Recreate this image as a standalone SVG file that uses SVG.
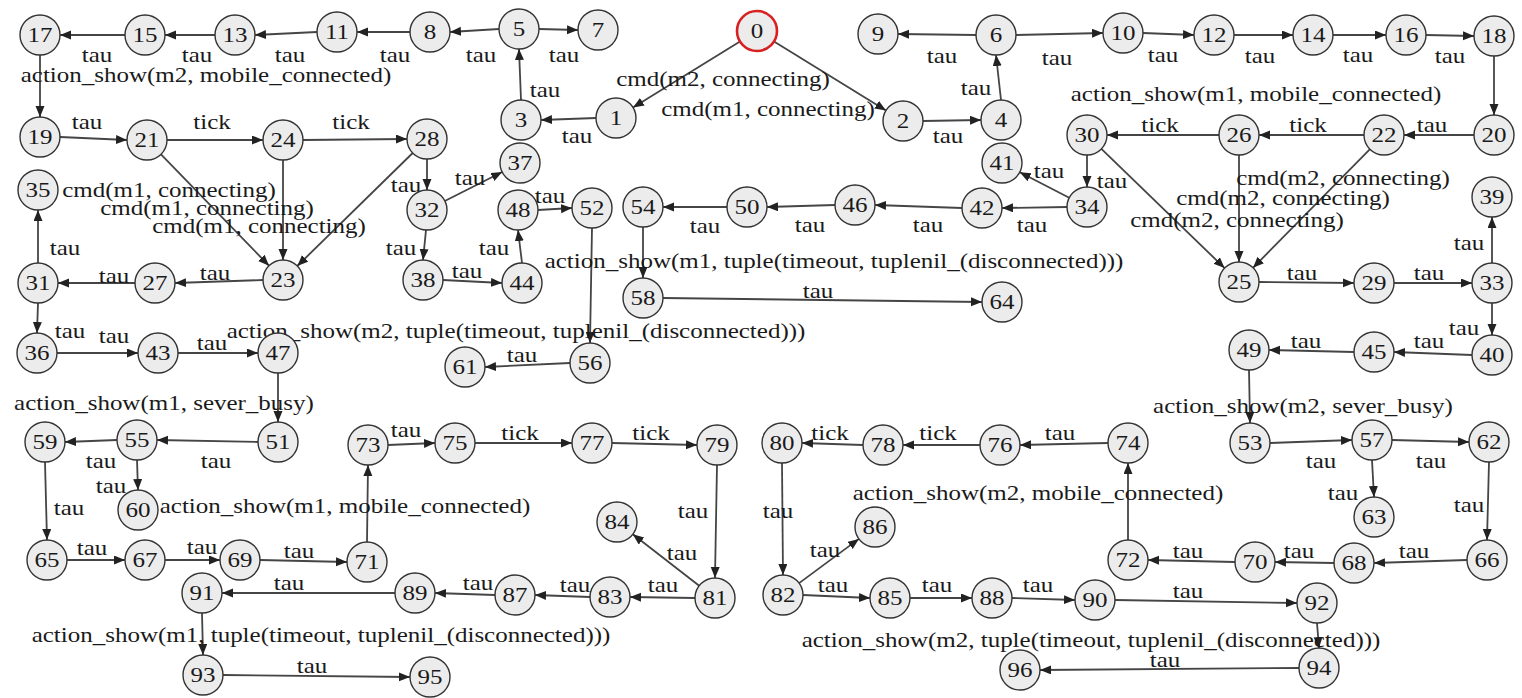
<svg xmlns="http://www.w3.org/2000/svg" width="1522" height="698" viewBox="0 0 1522 698">
<style>
.edge { stroke:#454545; stroke-width:1.8; fill:none; marker-end:url(#arrow); }
.node circle { fill:#ececec; stroke:#333; stroke-width:1.4; }
.node.init circle { stroke:#d82020; stroke-width:2.6; }
text { font-family:"Liberation Serif", "Times New Roman", serif; font-size:21px; fill:#1a1a1a; text-anchor:middle; }
</style>
<defs>
<marker id="arrow" markerWidth="12" markerHeight="10" refX="11" refY="4.5" orient="auto" markerUnits="userSpaceOnUse">
<path d="M0,0 L11,4.5 L0,9 z" fill="#222"/>
</marker>
</defs>
<rect width="1522" height="698" fill="#fff"/>

<!-- transitions -->
<g id="connectors">
<line class="edge" x1="740" y1="41.5" x2="633" y2="107.5"/>
<line class="edge" x1="774" y1="41.5" x2="886" y2="110.5"/>
<line class="edge" x1="596" y1="118" x2="541" y2="120"/>
<line class="edge" x1="923" y1="121" x2="981" y2="120"/>
<line class="edge" x1="521" y1="100" x2="519" y2="49"/>
<line class="edge" x1="1001" y1="100" x2="996" y2="55"/>
<line class="edge" x1="539" y1="29" x2="578" y2="30"/>
<line class="edge" x1="499" y1="29" x2="450" y2="32"/>
<line class="edge" x1="976" y1="35" x2="898" y2="34"/>
<line class="edge" x1="1016" y1="35" x2="1103" y2="33"/>
<line class="edge" x1="410" y1="32" x2="357" y2="32"/>
<line class="edge" x1="1143" y1="33" x2="1194" y2="35"/>
<line class="edge" x1="317" y1="32" x2="255" y2="35"/>
<line class="edge" x1="1234" y1="35" x2="1293" y2="35"/>
<line class="edge" x1="215" y1="35" x2="165" y2="35"/>
<line class="edge" x1="1333" y1="35" x2="1386" y2="35"/>
<line class="edge" x1="125" y1="35" x2="60" y2="35"/>
<line class="edge" x1="1426" y1="35" x2="1474" y2="36"/>
<line class="edge" x1="40" y1="55" x2="40" y2="117"/>
<line class="edge" x1="1494" y1="56" x2="1494" y2="115"/>
<line class="edge" x1="60" y1="137" x2="127" y2="140"/>
<line class="edge" x1="1474" y1="135" x2="1404" y2="135"/>
<line class="edge" x1="161" y1="154.3" x2="269" y2="265.7"/>
<line class="edge" x1="283" y1="160" x2="283" y2="260"/>
<line class="edge" x1="412.7" y1="153" x2="297.3" y2="266"/>
<line class="edge" x1="167" y1="140" x2="263" y2="140"/>
<line class="edge" x1="1101.4" y1="148.9" x2="1224.6" y2="268.1"/>
<line class="edge" x1="1239" y1="155" x2="1239" y2="262"/>
<line class="edge" x1="1370" y1="149.2" x2="1253" y2="267.8"/>
<line class="edge" x1="1364" y1="135" x2="1259" y2="135"/>
<line class="edge" x1="263" y1="280" x2="175" y2="283"/>
<line class="edge" x1="303" y1="140" x2="407" y2="139"/>
<line class="edge" x1="1259" y1="282" x2="1354" y2="283"/>
<line class="edge" x1="1219" y1="135" x2="1107" y2="135"/>
<line class="edge" x1="135" y1="283" x2="58" y2="283"/>
<line class="edge" x1="427" y1="159" x2="427" y2="190"/>
<line class="edge" x1="1394" y1="283" x2="1472" y2="283"/>
<line class="edge" x1="1087" y1="155" x2="1087" y2="187"/>
<line class="edge" x1="38" y1="263" x2="38" y2="210"/>
<line class="edge" x1="38" y1="303" x2="37" y2="333"/>
<line class="edge" x1="444.8" y1="201" x2="502.2" y2="172"/>
<line class="edge" x1="426" y1="230" x2="423" y2="260"/>
<line class="edge" x1="1492" y1="263" x2="1492" y2="217"/>
<line class="edge" x1="1492" y1="303" x2="1492" y2="335"/>
<line class="edge" x1="1069.2" y1="197.8" x2="1019.8" y2="172.2"/>
<line class="edge" x1="1067" y1="207" x2="1002" y2="208"/>
<line class="edge" x1="57" y1="353" x2="138" y2="353"/>
<line class="edge" x1="443" y1="280" x2="502" y2="283"/>
<line class="edge" x1="1472" y1="355" x2="1394" y2="352"/>
<line class="edge" x1="962" y1="208" x2="875" y2="205"/>
<line class="edge" x1="178" y1="353" x2="258" y2="353"/>
<line class="edge" x1="522" y1="263" x2="518" y2="230"/>
<line class="edge" x1="1354" y1="352" x2="1269" y2="350"/>
<line class="edge" x1="835" y1="205" x2="767" y2="207"/>
<line class="edge" x1="278" y1="373" x2="278" y2="422"/>
<line class="edge" x1="538" y1="210" x2="572" y2="208"/>
<line class="edge" x1="1249" y1="370" x2="1250" y2="423"/>
<line class="edge" x1="727" y1="207" x2="663" y2="207"/>
<line class="edge" x1="258" y1="442" x2="157" y2="440"/>
<line class="edge" x1="592" y1="228" x2="590" y2="343"/>
<line class="edge" x1="1270" y1="443" x2="1352" y2="440"/>
<line class="edge" x1="643" y1="227" x2="643" y2="278"/>
<line class="edge" x1="117" y1="440" x2="65" y2="442"/>
<line class="edge" x1="137" y1="460" x2="138" y2="490"/>
<line class="edge" x1="570" y1="363" x2="485" y2="367"/>
<line class="edge" x1="1392" y1="440" x2="1469" y2="442"/>
<line class="edge" x1="1372" y1="460" x2="1374" y2="497"/>
<line class="edge" x1="663" y1="298" x2="982" y2="302"/>
<line class="edge" x1="45" y1="462" x2="47" y2="540"/>
<line class="edge" x1="1489" y1="462" x2="1487" y2="540"/>
<line class="edge" x1="67" y1="560" x2="125" y2="560"/>
<line class="edge" x1="1467" y1="560" x2="1374" y2="563"/>
<line class="edge" x1="165" y1="560" x2="220" y2="560"/>
<line class="edge" x1="1334" y1="563" x2="1275" y2="562"/>
<line class="edge" x1="260" y1="560" x2="347" y2="562"/>
<line class="edge" x1="1235" y1="562" x2="1148" y2="560"/>
<line class="edge" x1="367" y1="542" x2="368" y2="465"/>
<line class="edge" x1="1128" y1="540" x2="1128" y2="463"/>
<line class="edge" x1="388" y1="445" x2="435" y2="443"/>
<line class="edge" x1="1108" y1="443" x2="1020" y2="445"/>
<line class="edge" x1="475" y1="443" x2="572" y2="443"/>
<line class="edge" x1="980" y1="445" x2="903" y2="445"/>
<line class="edge" x1="612" y1="443" x2="697" y2="445"/>
<line class="edge" x1="863" y1="445" x2="802" y2="443"/>
<line class="edge" x1="717" y1="465" x2="715" y2="578"/>
<line class="edge" x1="782" y1="463" x2="783" y2="575"/>
<line class="edge" x1="695" y1="598" x2="630" y2="597"/>
<line class="edge" x1="699.2" y1="585.7" x2="632.8" y2="534.3"/>
<line class="edge" x1="803" y1="595" x2="870" y2="598"/>
<line class="edge" x1="799.1" y1="583.1" x2="858.9" y2="538.9"/>
<line class="edge" x1="590" y1="597" x2="535" y2="595"/>
<line class="edge" x1="910" y1="598" x2="972" y2="598"/>
<line class="edge" x1="495" y1="595" x2="435" y2="593"/>
<line class="edge" x1="1012" y1="598" x2="1075" y2="600"/>
<line class="edge" x1="395" y1="593" x2="222" y2="593"/>
<line class="edge" x1="1115" y1="600" x2="1297" y2="603"/>
<line class="edge" x1="202" y1="613" x2="203" y2="655"/>
<line class="edge" x1="1317" y1="623" x2="1319" y2="648"/>
<line class="edge" x1="223" y1="675" x2="410" y2="677"/>
<line class="edge" x1="1299" y1="668" x2="1040" y2="670"/>
</g>

<!-- transition labels -->
<g id="edge-labels">
<text transform="translate(97 62) scale(1.19 1)">tau</text>
<text transform="translate(197 62) scale(1.19 1)">tau</text>
<text transform="translate(290 62) scale(1.19 1)">tau</text>
<text transform="translate(395 62) scale(1.19 1)">tau</text>
<text transform="translate(481 62) scale(1.19 1)">tau</text>
<text transform="translate(564 62) scale(1.19 1)">tau</text>
<text transform="translate(723 86) scale(1.19 1)">cmd(m2, connecting)</text>
<text transform="translate(768 116) scale(1.19 1)">cmd(m1, connecting)</text>
<text transform="translate(577 143) scale(1.19 1)">tau</text>
<text transform="translate(545 97) scale(1.19 1)">tau</text>
<text transform="translate(948 143) scale(1.19 1)">tau</text>
<text transform="translate(976 95) scale(1.19 1)">tau</text>
<text transform="translate(942 63) scale(1.19 1)">tau</text>
<text transform="translate(1057 65) scale(1.19 1)">tau</text>
<text transform="translate(1163 62) scale(1.19 1)">tau</text>
<text transform="translate(1260 63) scale(1.19 1)">tau</text>
<text transform="translate(1358 62) scale(1.19 1)">tau</text>
<text transform="translate(1450 63) scale(1.19 1)">tau</text>
<text transform="translate(1256 101) scale(1.19 1)">action_show(m1, mobile_connected)</text>
<text transform="translate(1432 132) scale(1.19 1)">tau</text>
<text transform="translate(1308 132) scale(1.19 1)">tick</text>
<text transform="translate(1160 132) scale(1.19 1)">tick</text>
<text transform="translate(1343 185) scale(1.19 1)">cmd(m2, connecting)</text>
<text transform="translate(1283 205) scale(1.19 1)">cmd(m2, connecting)</text>
<text transform="translate(1237 227) scale(1.19 1)">cmd(m2, connecting)</text>
<text transform="translate(1112 188) scale(1.19 1)">tau</text>
<text transform="translate(1049 178) scale(1.19 1)">tau</text>
<text transform="translate(1032 232) scale(1.19 1)">tau</text>
<text transform="translate(928 232) scale(1.19 1)">tau</text>
<text transform="translate(810 232) scale(1.19 1)">tau</text>
<text transform="translate(705 233) scale(1.19 1)">tau</text>
<text transform="translate(206 82) scale(1.19 1)">action_show(m2, mobile_connected)</text>
<text transform="translate(87 129) scale(1.19 1)">tau</text>
<text transform="translate(212 129) scale(1.19 1)">tick</text>
<text transform="translate(351 129) scale(1.19 1)">tick</text>
<text transform="translate(169 197) scale(1.19 1)">cmd(m1, connecting)</text>
<text transform="translate(207 215) scale(1.19 1)">cmd(m1, connecting)</text>
<text transform="translate(259 233) scale(1.19 1)">cmd(m1, connecting)</text>
<text transform="translate(406 192) scale(1.19 1)">tau</text>
<text transform="translate(470 185) scale(1.19 1)">tau</text>
<text transform="translate(550 203) scale(1.19 1)">tau</text>
<text transform="translate(65 255) scale(1.19 1)">tau</text>
<text transform="translate(114 283) scale(1.19 1)">tau</text>
<text transform="translate(215 280) scale(1.19 1)">tau</text>
<text transform="translate(70 338) scale(1.19 1)">tau</text>
<text transform="translate(114 343) scale(1.19 1)">tau</text>
<text transform="translate(212 350) scale(1.19 1)">tau</text>
<text transform="translate(401 255) scale(1.19 1)">tau</text>
<text transform="translate(494 255) scale(1.19 1)">tau</text>
<text transform="translate(467 278) scale(1.19 1)">tau</text>
<text transform="translate(834 268) scale(1.19 1)">action_show(m1, tuple(timeout, tuplenil_(disconnected)))</text>
<text transform="translate(516 338) scale(1.19 1)">action_show(m2, tuple(timeout, tuplenil_(disconnected)))</text>
<text transform="translate(522 362) scale(1.19 1)">tau</text>
<text transform="translate(818 298) scale(1.19 1)">tau</text>
<text transform="translate(164 410) scale(1.19 1)">action_show(m1, sever_busy)</text>
<text transform="translate(216 468) scale(1.19 1)">tau</text>
<text transform="translate(101 468) scale(1.19 1)">tau</text>
<text transform="translate(111 493) scale(1.19 1)">tau</text>
<text transform="translate(69 515) scale(1.19 1)">tau</text>
<text transform="translate(345 513) scale(1.19 1)">action_show(m1, mobile_connected)</text>
<text transform="translate(92 555) scale(1.19 1)">tau</text>
<text transform="translate(202 554) scale(1.19 1)">tau</text>
<text transform="translate(299 558) scale(1.19 1)">tau</text>
<text transform="translate(289 590) scale(1.19 1)">tau</text>
<text transform="translate(321 642) scale(1.19 1)">action_show(m1, tuple(timeout, tuplenil_(disconnected)))</text>
<text transform="translate(312 673) scale(1.19 1)">tau</text>
<text transform="translate(406 437) scale(1.19 1)">tau</text>
<text transform="translate(520 440) scale(1.19 1)">tick</text>
<text transform="translate(651 440) scale(1.19 1)">tick</text>
<text transform="translate(693 518) scale(1.19 1)">tau</text>
<text transform="translate(682 560) scale(1.19 1)">tau</text>
<text transform="translate(663 592) scale(1.19 1)">tau</text>
<text transform="translate(575 592) scale(1.19 1)">tau</text>
<text transform="translate(478 590) scale(1.19 1)">tau</text>
<text transform="translate(1469 250) scale(1.19 1)">tau</text>
<text transform="translate(1302 280) scale(1.19 1)">tau</text>
<text transform="translate(1429 280) scale(1.19 1)">tau</text>
<text transform="translate(1464 335) scale(1.19 1)">tau</text>
<text transform="translate(1429 348) scale(1.19 1)">tau</text>
<text transform="translate(1306 348) scale(1.19 1)">tau</text>
<text transform="translate(1303 413) scale(1.19 1)">action_show(m2, sever_busy)</text>
<text transform="translate(1321 468) scale(1.19 1)">tau</text>
<text transform="translate(1431 468) scale(1.19 1)">tau</text>
<text transform="translate(1343 500) scale(1.19 1)">tau</text>
<text transform="translate(1469 512) scale(1.19 1)">tau</text>
<text transform="translate(1414 558) scale(1.19 1)">tau</text>
<text transform="translate(1299 558) scale(1.19 1)">tau</text>
<text transform="translate(1188 558) scale(1.19 1)">tau</text>
<text transform="translate(1188 598) scale(1.19 1)">tau</text>
<text transform="translate(1091 647) scale(1.19 1)">action_show(m2, tuple(timeout, tuplenil_(disconnected)))</text>
<text transform="translate(1165 667) scale(1.19 1)">tau</text>
<text transform="translate(1038 500) scale(1.19 1)">action_show(m2, mobile_connected)</text>
<text transform="translate(1060 440) scale(1.19 1)">tau</text>
<text transform="translate(938 440) scale(1.19 1)">tick</text>
<text transform="translate(830 440) scale(1.19 1)">tick</text>
<text transform="translate(778 518) scale(1.19 1)">tau</text>
<text transform="translate(825 557) scale(1.19 1)">tau</text>
<text transform="translate(833 592) scale(1.19 1)">tau</text>
<text transform="translate(937 592) scale(1.19 1)">tau</text>
<text transform="translate(1038 592) scale(1.19 1)">tau</text>
</g>

<!-- states -->
<g id="n0" class="node init"><circle cx="757" cy="31" r="20"/><text transform="translate(757 38) scale(1.19 1)">0</text></g>
<g id="n1" class="node"><circle cx="616" cy="118" r="20"/><text transform="translate(616 125) scale(1.19 1)">1</text></g>
<g id="n2" class="node"><circle cx="903" cy="121" r="20"/><text transform="translate(903 128) scale(1.19 1)">2</text></g>
<g id="n3" class="node"><circle cx="521" cy="120" r="20"/><text transform="translate(521 127) scale(1.19 1)">3</text></g>
<g id="n4" class="node"><circle cx="1001" cy="120" r="20"/><text transform="translate(1001 127) scale(1.19 1)">4</text></g>
<g id="n5" class="node"><circle cx="519" cy="29" r="20"/><text transform="translate(519 36) scale(1.19 1)">5</text></g>
<g id="n6" class="node"><circle cx="996" cy="35" r="20"/><text transform="translate(996 42) scale(1.19 1)">6</text></g>
<g id="n7" class="node"><circle cx="598" cy="30" r="20"/><text transform="translate(598 37) scale(1.19 1)">7</text></g>
<g id="n8" class="node"><circle cx="430" cy="32" r="20"/><text transform="translate(430 39) scale(1.19 1)">8</text></g>
<g id="n9" class="node"><circle cx="878" cy="34" r="20"/><text transform="translate(878 41) scale(1.19 1)">9</text></g>
<g id="n10" class="node"><circle cx="1123" cy="33" r="20"/><text transform="translate(1123 40) scale(1.19 1)">10</text></g>
<g id="n11" class="node"><circle cx="337" cy="32" r="20"/><text transform="translate(337 39) scale(1.19 1)">11</text></g>
<g id="n12" class="node"><circle cx="1214" cy="35" r="20"/><text transform="translate(1214 42) scale(1.19 1)">12</text></g>
<g id="n13" class="node"><circle cx="235" cy="35" r="20"/><text transform="translate(235 42) scale(1.19 1)">13</text></g>
<g id="n14" class="node"><circle cx="1313" cy="35" r="20"/><text transform="translate(1313 42) scale(1.19 1)">14</text></g>
<g id="n15" class="node"><circle cx="145" cy="35" r="20"/><text transform="translate(145 42) scale(1.19 1)">15</text></g>
<g id="n16" class="node"><circle cx="1406" cy="35" r="20"/><text transform="translate(1406 42) scale(1.19 1)">16</text></g>
<g id="n17" class="node"><circle cx="40" cy="35" r="20"/><text transform="translate(40 42) scale(1.19 1)">17</text></g>
<g id="n18" class="node"><circle cx="1494" cy="36" r="20"/><text transform="translate(1494 43) scale(1.19 1)">18</text></g>
<g id="n19" class="node"><circle cx="40" cy="137" r="20"/><text transform="translate(40 144) scale(1.19 1)">19</text></g>
<g id="n20" class="node"><circle cx="1494" cy="135" r="20"/><text transform="translate(1494 142) scale(1.19 1)">20</text></g>
<g id="n21" class="node"><circle cx="147" cy="140" r="20"/><text transform="translate(147 147) scale(1.19 1)">21</text></g>
<g id="n22" class="node"><circle cx="1384" cy="135" r="20"/><text transform="translate(1384 142) scale(1.19 1)">22</text></g>
<g id="n23" class="node"><circle cx="283" cy="280" r="20"/><text transform="translate(283 287) scale(1.19 1)">23</text></g>
<g id="n24" class="node"><circle cx="283" cy="140" r="20"/><text transform="translate(283 147) scale(1.19 1)">24</text></g>
<g id="n25" class="node"><circle cx="1239" cy="282" r="20"/><text transform="translate(1239 289) scale(1.19 1)">25</text></g>
<g id="n26" class="node"><circle cx="1239" cy="135" r="20"/><text transform="translate(1239 142) scale(1.19 1)">26</text></g>
<g id="n27" class="node"><circle cx="155" cy="283" r="20"/><text transform="translate(155 290) scale(1.19 1)">27</text></g>
<g id="n28" class="node"><circle cx="427" cy="139" r="20"/><text transform="translate(427 146) scale(1.19 1)">28</text></g>
<g id="n29" class="node"><circle cx="1374" cy="283" r="20"/><text transform="translate(1374 290) scale(1.19 1)">29</text></g>
<g id="n30" class="node"><circle cx="1087" cy="135" r="20"/><text transform="translate(1087 142) scale(1.19 1)">30</text></g>
<g id="n31" class="node"><circle cx="38" cy="283" r="20"/><text transform="translate(38 290) scale(1.19 1)">31</text></g>
<g id="n32" class="node"><circle cx="427" cy="210" r="20"/><text transform="translate(427 217) scale(1.19 1)">32</text></g>
<g id="n33" class="node"><circle cx="1492" cy="283" r="20"/><text transform="translate(1492 290) scale(1.19 1)">33</text></g>
<g id="n34" class="node"><circle cx="1087" cy="207" r="20"/><text transform="translate(1087 214) scale(1.19 1)">34</text></g>
<g id="n35" class="node"><circle cx="38" cy="190" r="20"/><text transform="translate(38 197) scale(1.19 1)">35</text></g>
<g id="n36" class="node"><circle cx="37" cy="353" r="20"/><text transform="translate(37 360) scale(1.19 1)">36</text></g>
<g id="n37" class="node"><circle cx="520" cy="163" r="20"/><text transform="translate(520 170) scale(1.19 1)">37</text></g>
<g id="n38" class="node"><circle cx="423" cy="280" r="20"/><text transform="translate(423 287) scale(1.19 1)">38</text></g>
<g id="n39" class="node"><circle cx="1492" cy="197" r="20"/><text transform="translate(1492 204) scale(1.19 1)">39</text></g>
<g id="n40" class="node"><circle cx="1492" cy="355" r="20"/><text transform="translate(1492 362) scale(1.19 1)">40</text></g>
<g id="n41" class="node"><circle cx="1002" cy="163" r="20"/><text transform="translate(1002 170) scale(1.19 1)">41</text></g>
<g id="n42" class="node"><circle cx="982" cy="208" r="20"/><text transform="translate(982 215) scale(1.19 1)">42</text></g>
<g id="n43" class="node"><circle cx="158" cy="353" r="20"/><text transform="translate(158 360) scale(1.19 1)">43</text></g>
<g id="n44" class="node"><circle cx="522" cy="283" r="20"/><text transform="translate(522 290) scale(1.19 1)">44</text></g>
<g id="n45" class="node"><circle cx="1374" cy="352" r="20"/><text transform="translate(1374 359) scale(1.19 1)">45</text></g>
<g id="n46" class="node"><circle cx="855" cy="205" r="20"/><text transform="translate(855 212) scale(1.19 1)">46</text></g>
<g id="n47" class="node"><circle cx="278" cy="353" r="20"/><text transform="translate(278 360) scale(1.19 1)">47</text></g>
<g id="n48" class="node"><circle cx="518" cy="210" r="20"/><text transform="translate(518 217) scale(1.19 1)">48</text></g>
<g id="n49" class="node"><circle cx="1249" cy="350" r="20"/><text transform="translate(1249 357) scale(1.19 1)">49</text></g>
<g id="n50" class="node"><circle cx="747" cy="207" r="20"/><text transform="translate(747 214) scale(1.19 1)">50</text></g>
<g id="n51" class="node"><circle cx="278" cy="442" r="20"/><text transform="translate(278 449) scale(1.19 1)">51</text></g>
<g id="n52" class="node"><circle cx="592" cy="208" r="20"/><text transform="translate(592 215) scale(1.19 1)">52</text></g>
<g id="n53" class="node"><circle cx="1250" cy="443" r="20"/><text transform="translate(1250 450) scale(1.19 1)">53</text></g>
<g id="n54" class="node"><circle cx="643" cy="207" r="20"/><text transform="translate(643 214) scale(1.19 1)">54</text></g>
<g id="n55" class="node"><circle cx="137" cy="440" r="20"/><text transform="translate(137 447) scale(1.19 1)">55</text></g>
<g id="n56" class="node"><circle cx="590" cy="363" r="20"/><text transform="translate(590 370) scale(1.19 1)">56</text></g>
<g id="n57" class="node"><circle cx="1372" cy="440" r="20"/><text transform="translate(1372 447) scale(1.19 1)">57</text></g>
<g id="n58" class="node"><circle cx="643" cy="298" r="20"/><text transform="translate(643 305) scale(1.19 1)">58</text></g>
<g id="n59" class="node"><circle cx="45" cy="442" r="20"/><text transform="translate(45 449) scale(1.19 1)">59</text></g>
<g id="n60" class="node"><circle cx="138" cy="510" r="20"/><text transform="translate(138 517) scale(1.19 1)">60</text></g>
<g id="n61" class="node"><circle cx="465" cy="367" r="20"/><text transform="translate(465 374) scale(1.19 1)">61</text></g>
<g id="n62" class="node"><circle cx="1489" cy="442" r="20"/><text transform="translate(1489 449) scale(1.19 1)">62</text></g>
<g id="n63" class="node"><circle cx="1374" cy="517" r="20"/><text transform="translate(1374 524) scale(1.19 1)">63</text></g>
<g id="n64" class="node"><circle cx="1002" cy="302" r="20"/><text transform="translate(1002 309) scale(1.19 1)">64</text></g>
<g id="n65" class="node"><circle cx="47" cy="560" r="20"/><text transform="translate(47 567) scale(1.19 1)">65</text></g>
<g id="n66" class="node"><circle cx="1487" cy="560" r="20"/><text transform="translate(1487 567) scale(1.19 1)">66</text></g>
<g id="n67" class="node"><circle cx="145" cy="560" r="20"/><text transform="translate(145 567) scale(1.19 1)">67</text></g>
<g id="n68" class="node"><circle cx="1354" cy="563" r="20"/><text transform="translate(1354 570) scale(1.19 1)">68</text></g>
<g id="n69" class="node"><circle cx="240" cy="560" r="20"/><text transform="translate(240 567) scale(1.19 1)">69</text></g>
<g id="n70" class="node"><circle cx="1255" cy="562" r="20"/><text transform="translate(1255 569) scale(1.19 1)">70</text></g>
<g id="n71" class="node"><circle cx="367" cy="562" r="20"/><text transform="translate(367 569) scale(1.19 1)">71</text></g>
<g id="n72" class="node"><circle cx="1128" cy="560" r="20"/><text transform="translate(1128 567) scale(1.19 1)">72</text></g>
<g id="n73" class="node"><circle cx="368" cy="445" r="20"/><text transform="translate(368 452) scale(1.19 1)">73</text></g>
<g id="n74" class="node"><circle cx="1128" cy="443" r="20"/><text transform="translate(1128 450) scale(1.19 1)">74</text></g>
<g id="n75" class="node"><circle cx="455" cy="443" r="20"/><text transform="translate(455 450) scale(1.19 1)">75</text></g>
<g id="n76" class="node"><circle cx="1000" cy="445" r="20"/><text transform="translate(1000 452) scale(1.19 1)">76</text></g>
<g id="n77" class="node"><circle cx="592" cy="443" r="20"/><text transform="translate(592 450) scale(1.19 1)">77</text></g>
<g id="n78" class="node"><circle cx="883" cy="445" r="20"/><text transform="translate(883 452) scale(1.19 1)">78</text></g>
<g id="n79" class="node"><circle cx="717" cy="445" r="20"/><text transform="translate(717 452) scale(1.19 1)">79</text></g>
<g id="n80" class="node"><circle cx="782" cy="443" r="20"/><text transform="translate(782 450) scale(1.19 1)">80</text></g>
<g id="n81" class="node"><circle cx="715" cy="598" r="20"/><text transform="translate(715 605) scale(1.19 1)">81</text></g>
<g id="n82" class="node"><circle cx="783" cy="595" r="20"/><text transform="translate(783 602) scale(1.19 1)">82</text></g>
<g id="n83" class="node"><circle cx="610" cy="597" r="20"/><text transform="translate(610 604) scale(1.19 1)">83</text></g>
<g id="n84" class="node"><circle cx="617" cy="522" r="20"/><text transform="translate(617 529) scale(1.19 1)">84</text></g>
<g id="n85" class="node"><circle cx="890" cy="598" r="20"/><text transform="translate(890 605) scale(1.19 1)">85</text></g>
<g id="n86" class="node"><circle cx="875" cy="527" r="20"/><text transform="translate(875 534) scale(1.19 1)">86</text></g>
<g id="n87" class="node"><circle cx="515" cy="595" r="20"/><text transform="translate(515 602) scale(1.19 1)">87</text></g>
<g id="n88" class="node"><circle cx="992" cy="598" r="20"/><text transform="translate(992 605) scale(1.19 1)">88</text></g>
<g id="n89" class="node"><circle cx="415" cy="593" r="20"/><text transform="translate(415 600) scale(1.19 1)">89</text></g>
<g id="n90" class="node"><circle cx="1095" cy="600" r="20"/><text transform="translate(1095 607) scale(1.19 1)">90</text></g>
<g id="n91" class="node"><circle cx="202" cy="593" r="20"/><text transform="translate(202 600) scale(1.19 1)">91</text></g>
<g id="n92" class="node"><circle cx="1317" cy="603" r="20"/><text transform="translate(1317 610) scale(1.19 1)">92</text></g>
<g id="n93" class="node"><circle cx="203" cy="675" r="20"/><text transform="translate(203 682) scale(1.19 1)">93</text></g>
<g id="n94" class="node"><circle cx="1319" cy="668" r="20"/><text transform="translate(1319 675) scale(1.19 1)">94</text></g>
<g id="n95" class="node"><circle cx="430" cy="677" r="20"/><text transform="translate(430 684) scale(1.19 1)">95</text></g>
<g id="n96" class="node"><circle cx="1020" cy="670" r="20"/><text transform="translate(1020 677) scale(1.19 1)">96</text></g>
</svg>
